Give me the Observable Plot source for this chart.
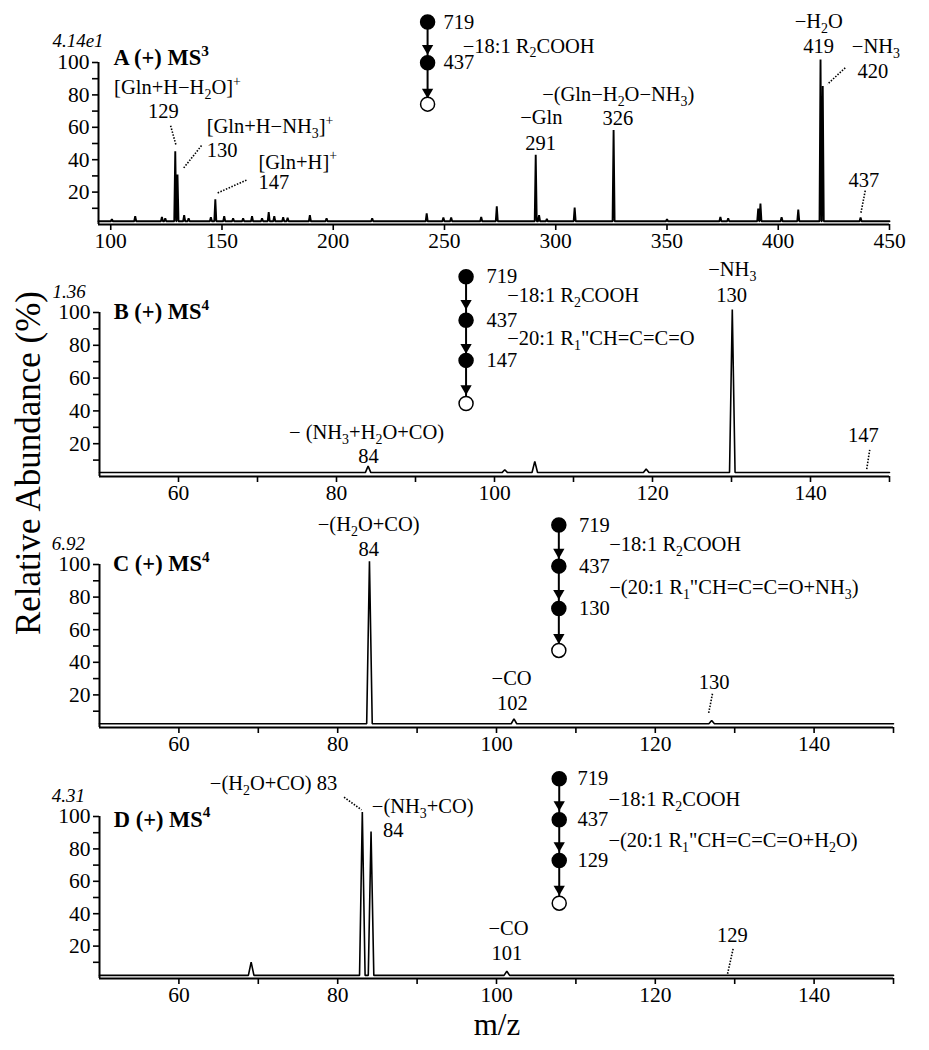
<!DOCTYPE html>
<html><head><meta charset="utf-8">
<script src="https://cdn.jsdelivr.net/npm/d3@7"></script>
<script src="https://cdn.jsdelivr.net/npm/@observablehq/plot@0.6"></script>
<style>
body{margin:0;background:#fff;}
#wrap{position:relative;width:929px;height:1050px;font-family:"Liberation Serif","Times New Roman",serif;color:#000;}
#wrap svg{position:absolute;left:0;overflow:visible;}
.ylab{position:absolute;left:29px;top:463px;transform:translate(-50%,-50%) rotate(-90deg);font-size:35px;white-space:nowrap;line-height:40px;}
.xlab{position:absolute;left:497px;top:1025px;transform:translate(-50%,-50%);font-size:31px;white-space:nowrap;}
</style></head><body><div id="wrap"><div class="ylab">Relative Abundance (%)</div><div class="xlab">m/z</div></div>
<script>
// ---------- data (m/z, relative abundance %) ----------
const yMajor = [20, 40, 60, 80, 100];
const yMinor = [10, 30, 50, 70, 90];
const xTicksA = [100, 150, 200, 250, 300, 350, 400, 450];
const xMajorMS4 = [60, 80, 100, 120, 140];
const xMinorMS4 = [70, 90, 110, 130, 150];

const peaksA = [[100.5,3.3],[111,5.1],[123,4.7],[124.5,3.9],[129,45.2],[130,30.9],[133,5.7],[135,3.9],[145,4.5],[147,15.5],[151,5.1],[155,3.9],[159.5,3.9],[163.5,5.1],[168,3.9],[171,7.6],[173.5,5.1],[177.5,4.5],[179.5,4.2],[189.5,5.7],[197,3.9],[217.5,3.9],[242,6.9],[249.5,4.3],[253,4.3],[266.5,4.7],[273.5,11.2],[291,43.0],[292.5,5.7],[296,3.4],[308.5,10.4],[326,58.3],[350,3.3],[374,4.7],[377.5,3.9],[391,9.8],[392,12.9],[401.5,4.5],[409,9.2],[419,101.9],[420,85.5],[437,4.3]];
const peaksB = [[84,6.3],[101.3,4.1],[105.1,9.2],[119.2,4.6],[130.1,101.8]];
const peaksC = [[84,102],[102.2,5.3],[127.1,4.3]];
const peaksD = [[69.1,10.1],[83.1,102.7],[84.2,90.7],[101.3,4.5]];
const baselines = {A: 2, B: 2.4, C: 2.3, D: 1.9};

const titles = {A: "A (+) MS^3", B: "B (+) MS^4", C: "C (+) MS^4", D: "D (+) MS^4"};
const scales = {A: "4.14e1", B: "1.36", C: "6.92", D: "4.31"};
const treeA = ["719", "437"];
const treeB = ["719", "437", "147"];
const treeC = ["719", "437", "130"];
const treeD = ["719", "437", "129"];

// ---------- annotation layout (data coordinates) ----------
const labelsA = [
  {t:"[Gln+H−H_2O]^+", x:130.0, y:84.4, a:"middle"},
  {t:"129", x:123.7, y:70.0, a:"middle"},
  {t:"[Gln+H−NH_3]^+", x:143.1, y:60.4, a:"start"},
  {t:"130", x:143.1, y:45.6, a:"start"},
  {t:"[Gln+H]^+", x:166.4, y:38.6, a:"start"},
  {t:"147", x:166.4, y:26.0, a:"start"},
  {t:"−Gln", x:293.5, y:65.8, a:"middle"},
  {t:"291", x:293.2, y:50.0, a:"middle"},
  {t:"−(Gln−H_2O−NH_3)", x:328.1, y:80.2, a:"middle"},
  {t:"326", x:327.9, y:65.3, a:"middle"},
  {t:"−H_2O", x:418.2, y:125.6, a:"middle"},
  {t:"419", x:418.2, y:110.0, a:"middle"},
  {t:"−NH_3", x:443.9, y:110.0, a:"middle"},
  {t:"420", x:442.5, y:94.7, a:"middle"},
  {t:"437", x:438.5, y:27.4, a:"middle"},
  {t:"−18:1 R_2COOH", x:258.2, y:110.2, a:"start"}
];
const leadersA = [
  {x1:126.9,y1:61.0,x2:129.4,y2:48.7},
  {x1:140.8,y1:48.7,x2:132.6,y2:34.6},
  {x1:161.0,y1:27.4,x2:147.9,y2:19.4},
  {x1:430.1,y1:96.7,x2:422.1,y2:86.6},
  {x1:439.1,y1:20.9,x2:437.1,y2:6.8}
];
const labelsB = [
  {t:"− (NH_3+H_2O+CO)", x:83.8, y:26.6, a:"middle"},
  {t:"84", x:84.05, y:12.5, a:"middle"},
  {t:"−NH_3", x:130.1, y:126.2, a:"middle"},
  {t:"130", x:130.0, y:110.4, a:"middle"},
  {t:"147", x:146.7, y:24.9, a:"middle"},
  {t:"−18:1 R_2COOH", x:101.6, y:110.6, a:"start"},
  {t:"−20:1 R_1\"CH=C=C=O", x:101.6, y:84.3, a:"start"}
];
const leadersB = [{x1:147.5,y1:16.3,x2:147.1,y2:4.1}];
const labelsC = [
  {t:"−(H_2O+CO)", x:83.9, y:124.6, a:"middle"},
  {t:"84", x:83.9, y:109.0, a:"middle"},
  {t:"−CO", x:101.9, y:29.9, a:"middle"},
  {t:"102", x:102.0, y:14.9, a:"middle"},
  {t:"130", x:127.4, y:27.8, a:"middle"},
  {t:"−18:1 R_2COOH", x:114.2, y:112.5, a:"start"},
  {t:"−(20:1 R_1\"CH=C=C=O+NH_3)", x:114.2, y:85.9, a:"start"}
];
const leadersC = [{x1:127.2,y1:20.7,x2:126.7,y2:8.4}];
const labelsD = [
  {t:"−(H_2O+CO) 83", x:63.9, y:120.6, a:"start"},
  {t:"−(NH_3+CO)", x:84.3, y:106.0, a:"start"},
  {t:"84", x:87.0, y:91.2, a:"middle"},
  {t:"−CO", x:101.5, y:30.7, a:"middle"},
  {t:"101", x:101.3, y:15.6, a:"middle"},
  {t:"129", x:129.7, y:26.5, a:"middle"},
  {t:"−18:1 R_2COOH", x:114.1, y:110.3, a:"start"},
  {t:"−(20:1 R_1\"CH=C=C=O+H_2O)", x:114.1, y:85.2, a:"start"}
];
const leadersD = [{x1:80.8,y1:111.9,x2:83.0,y2:104.1},{x1:129.8,y1:18.3,x2:129.1,y2:2.9}];

const panels = [
  {key:"A", top:0, mt:62, h:254, ml:98, mr:40, dom:[94.5,450], hw:0.45, sw:1.9, peaks:peaksA, xMajor:xTicksA, xMinor:[],
   labels:labelsA, leaders:leadersA, tree:{names:treeA, x:242.4, ys:[125,99.8,74.3], tri:[108.8,81.8], nameX:249.6},
   title:{x:101.2,y:102.9}, scale:{x:73.8,y:113.6}},
  {key:"B", top:250, mt:62, h:256, ml:99, mr:40, dom:[50,150], hw:0.35, sw:1.6, peaks:peaksB, xMajor:xMajorMS4, xMinor:xMinorMS4,
   labels:labelsB, leaders:leadersB, tree:{names:treeB, x:96.4, ys:[121.8,95.3,70.8,44.5], tri:[105.7,78.8,53.7], nameX:99.0},
   title:{x:51.8,y:100.2}, scale:{x:44.05,y:112.8}},
  {key:"C", top:500, mt:64, h:257, ml:99, mr:36, dom:[50,150], hw:0.35, sw:1.6, peaks:peaksC, xMajor:xMajorMS4, xMinor:xMinorMS4,
   labels:labelsC, leaders:leadersC, tree:{names:treeC, x:107.85, ys:[124.2,99.0,73.0,47.3], tri:[107.6,82.4,55.3], nameX:110.4},
   title:{x:51.7,y:100.2}, scale:{x:44.0,y:112.9}},
  {key:"D", top:760, mt:56, h:248, ml:99, mr:36, dom:[50,150], hw:0.35, sw:1.6, peaks:peaksD, xMajor:xMajorMS4, xMinor:xMinorMS4,
   labels:labelsD, leaders:leadersD, tree:{names:treeD, x:107.9, ys:[123.3,98.0,72.8,46.5], tri:[107.4,82.1,55.2], nameX:110.2},
   title:{x:51.8,y:98.0}, scale:{x:44.0,y:112.9}}
];

function trace(peaks, base, hw, dom) {
  const pts = [{mz: dom[0], v: base}];
  for (const [mz, v] of peaks) pts.push({mz: mz - hw, v: base}, {mz, v}, {mz: mz + hw, v: base});
  pts.push({mz: dom[1], v: base});
  return pts;
}

function rich(svg) {
  svg.querySelectorAll("text").forEach(t => {
    const s = t.textContent;
    if (!/[_^]/.test(s)) return;
    const fs = parseFloat(getComputedStyle(t).fontSize) || 20;
    const segs = []; let buf = "";
    for (let i = 0; i < s.length; i++) {
      const c = s[i];
      if ((c === "_" || c === "^") && i + 1 < s.length) {
        if (buf) { segs.push([buf, 0]); buf = ""; }
        segs.push([s[i + 1], c === "_" ? 1 : -1]); i++;
      } else buf += c;
    }
    if (buf) segs.push([buf, 0]);
    t.textContent = "";
    let cur = 0;
    for (const [txt, k] of segs) {
      const off = k === 1 ? 0.24 * fs : k === -1 ? -0.42 * fs : 0;
      const ts = document.createElementNS("http://www.w3.org/2000/svg", "tspan");
      ts.setAttribute("dy", (off - cur).toFixed(2)); cur = off;
      if (k) ts.setAttribute("font-size", (0.68 * fs).toFixed(1));
      ts.textContent = txt;
      t.appendChild(ts);
    }
  });
}

const FS = 20.5;
const wrap = document.getElementById("wrap");
for (const p of panels) {
  const tr = p.tree;
  const nodes = tr.ys.map((y, i) => ({x: tr.x, y, filled: i < tr.names.length}));
  const shafts = tr.ys.slice(1).map((y, i) => ({x: tr.x, y1: tr.ys[i], y2: y}));
  const tris = tr.tri.map(y => ({x: tr.x, y}));
  const names = tr.names.map((n, i) => ({t: n, x: tr.nameX, y: tr.ys[i]}));
  const startLabels = p.labels.filter(d => d.a === "start");
  const midLabels = p.labels.filter(d => d.a === "middle");
  const chart = Plot.plot({
    width: 929, height: p.h,
    marginTop: p.mt, marginBottom: 30, marginLeft: p.ml, marginRight: p.mr,
    x: {domain: p.dom},
    y: {domain: [0, 100]},
    style: {fontFamily: "Liberation Serif, Times New Roman, serif", background: "transparent", overflow: "visible", color: "#000"},
    marks: [
      Plot.axisY({ticks: yMajor, tickSize: 6, tickPadding: 3, fontSize: 21.5, label: null, strokeWidth: 1.6}),
      Plot.axisY({ticks: yMinor, tickSize: 6, tickFormat: () => "", label: null, strokeWidth: 1.6}),
      Plot.axisX({ticks: p.xMajor, tickSize: 6, tickPadding: 2, fontSize: 21.5, label: null, strokeWidth: 1.6}),
      ...(p.xMinor.length ? [Plot.axisX({ticks: p.xMinor, tickSize: 6, tickFormat: () => "", label: null, strokeWidth: 1.6})] : []),
      Plot.ruleY([0], {strokeWidth: 2}),
      Plot.ruleX([p.dom[0]], {y1: 0, y2: 100, strokeWidth: 2}),
      Plot.line(trace(p.peaks, baselines[p.key], p.hw, p.dom), {x: "mz", y: "v", strokeWidth: p.sw, strokeLinejoin: "miter"}),
      Plot.link(p.leaders, {x1: "x1", y1: "y1", x2: "x2", y2: "y2", strokeWidth: 1.6, strokeDasharray: "1.5,1.5"}),
      Plot.link(shafts, {x1: "x", x2: "x", y1: "y1", y2: "y2", strokeWidth: 2}),
      Plot.dot(tris, {x: "x", y: "y", symbol: "triangle", r: 4.2, fill: "black", rotate: 180}),
      Plot.dot(nodes, {x: "x", y: "y", r: 7, fill: d => d.filled ? "black" : "white", stroke: "black", strokeWidth: 1.5}),
      Plot.text(names, {x: "x", y: "y", text: "t", textAnchor: "start", fontSize: FS}),
      Plot.text(startLabels, {x: "x", y: "y", text: "t", textAnchor: "start", fontSize: FS}),
      Plot.text(midLabels, {x: "x", y: "y", text: "t", textAnchor: "middle", fontSize: FS}),
      Plot.text([p.title], {x: "x", y: "y", text: () => titles[p.key], textAnchor: "start", fontSize: 22.5, fontWeight: "bold"}),
      Plot.text([p.scale], {x: "x", y: "y", text: () => scales[p.key], textAnchor: "start", fontSize: 19, fontStyle: "italic"})
    ]
  });
  chart.style.top = p.top + "px";
  wrap.appendChild(chart);
  rich(chart);
}
</script></body></html>
